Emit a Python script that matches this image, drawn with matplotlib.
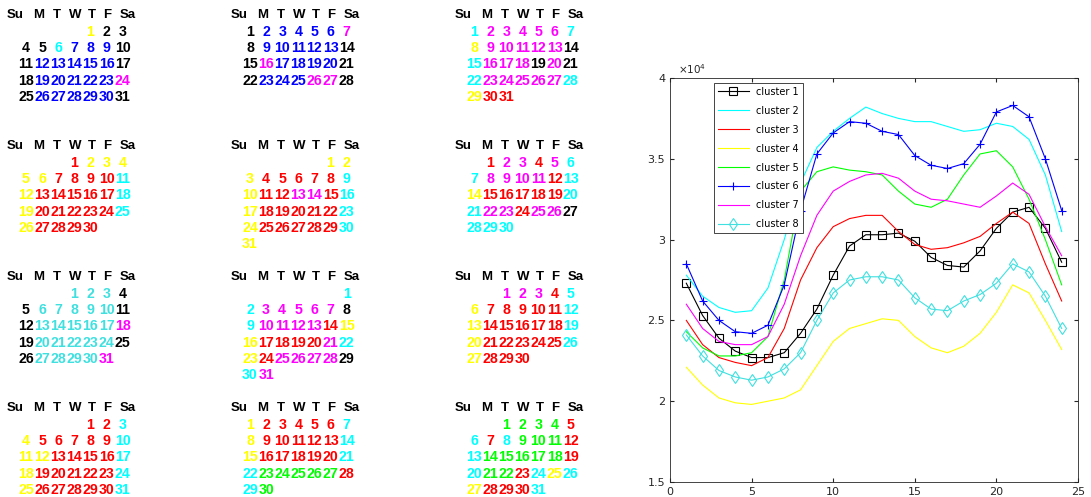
import datetime
import numpy as np
import matplotlib.pyplot as plt
from matplotlib.ticker import FuncFormatter

year = 2015

# cluster id for every day of each month (1-based cluster numbers)
jan = "4111126661" "1666661" "1666667" "1666661"
feb = "1666667" "1666661" "1766661" "1666771"
mar = "2777772" "4777771" "2777171" "2777772" "433"
apr = "3444" "4433332" "4333332" "4333332" "43333"
may = "44" "4333332" "4337732" "4333332" "4333332" "4"
jun = "377372" "2777732" "4333332" "2773771" "222"
jul = "8881" "1888881" "1888887" "1888881" "188887"
aug = "2" "2777771" "2777734" "4333372" "4377771" "27"
sep = "77732" "4333332" "4333332" "4333332" "4333"
oct_ = "332" "4333332" "4433332" "4333332" "4333332"
nov = "4333332" "4333332" "4333332" "2555553" "25"
dec = "55553" "2325553" "2555553" "2553242" "43332"
months = [jan, feb, mar, apr, may, jun, jul, aug, sep, oct_, nov, dec]

hours = np.arange(1, 25)
cluster_1 = [27300, 25300, 23900, 23100, 22700, 22700, 23000, 24200, 25700, 27800, 29600, 30300,
             30300, 30400, 29900, 28900, 28400, 28300, 29300, 30700, 31700, 32000, 30700, 28600]
cluster_2 = [27800, 26500, 25800, 25500, 25600, 27000, 30000, 33500, 35700, 36700, 37500, 38200,
             37800, 37500, 37300, 37300, 37000, 36700, 36800, 37200, 37000, 36200, 34000, 30500]
cluster_3 = [25000, 23500, 22700, 22400, 22200, 22700, 24500, 27500, 29500, 30800, 31300, 31500,
             31500, 30500, 29700, 29400, 29500, 29800, 30200, 31000, 31700, 31000, 28500, 26200]
cluster_4 = [22100, 21000, 20200, 19900, 19800, 20000, 20200, 20700, 22200, 23700, 24500, 24800,
             25100, 25000, 24000, 23300, 23000, 23400, 24200, 25500, 27200, 26700, 25000, 23200]
cluster_5 = [24300, 23300, 22800, 22800, 23000, 24000, 27500, 33000, 34200, 34500, 34300, 34200,
             34000, 33000, 32200, 32000, 32500, 34000, 35300, 35500, 34500, 32500, 30000, 27200]
cluster_6 = [28500, 26200, 25000, 24300, 24200, 24700, 27200, 31800, 35300, 36600, 37300, 37200,
             36700, 36500, 35200, 34600, 34400, 34700, 35900, 37900, 38300, 37600, 35000, 31800]
cluster_7 = [26000, 24500, 23700, 23500, 23500, 24000, 26000, 29000, 31500, 33000, 33600, 34000,
             34100, 33800, 33000, 32500, 32400, 32200, 32000, 32700, 33500, 32800, 30800, 29000]
cluster_8 = [24100, 22800, 21900, 21500, 21300, 21500, 22000, 23000, 25000, 26700, 27500, 27700,
             27700, 27500, 26400, 25700, 25600, 26200, 26600, 27300, 28500, 28000, 26500, 24500]
profiles = [cluster_1, cluster_2, cluster_3, cluster_4, cluster_5, cluster_6, cluster_7, cluster_8]
names = ['cluster %d' % (i + 1) for i in range(8)]

colors = ['k', (0, 1, 1), (1, 0, 0), (1, 1, 0), (0, 1, 0), (0, 0, 1), (1, 0, 1), (0.25, 0.88, 0.88)]
markers = ['s', None, None, None, None, '+', None, 'd']
weekdays = ['Su', 'M', 'T', 'W', 'T', 'F', 'Sa']
head_dx = [-11, 13, 31, 49, 66, 81, 102]

W, H = 1091, 497
fig = plt.figure(figsize=(W / 100, H / 100), dpi=100)

# calendar panels, laid out on a pixel-scaled overlay axes
cal = fig.add_axes([0, 0, 1, 1])
cal.set_xlim(0, W)
cal.set_ylim(H, 0)
cal.axis('off')
font = dict(family=['Liberation Sans', 'DejaVu Sans'], weight='bold',
            ha='center', va='center')

for m, codes in enumerate(months):
    x0 = 26 + 224 * (m % 3)
    y0 = 32 + 131 * (m // 3)
    for d, dx in zip(weekdays, head_dx):
        cal.text(x0 + dx, y0 - 17, d, color='k', fontsize=9.5, **font)
    first = datetime.date(year, m + 1, 1)
    offset = (first.weekday() + 1) % 7
    for i, c in enumerate(codes):
        pos = offset + i
        col, row = pos % 7, pos // 7
        cal.text(x0 + 16.1 * col, y0 + 16.2 * row, str(i + 1),
                 color=colors[int(c) - 1], fontsize=10.2, **font)

# daily load profiles
ax = fig.add_axes([670 / W, 15 / H, 408 / W, 404 / H])
for prof, name, col, mk in zip(profiles, names, colors, markers):
    ax.plot(hours, prof, color=col, lw=0.8, marker=mk, markersize=6,
            markerfacecolor='none', markeredgewidth=0.8, label=name)

ax.set_xlim(0, 25)
ax.set_ylim(15000, 40000)
ax.set_xticks(np.arange(0, 26, 5))
ax.set_yticks(np.arange(15000, 40001, 5000))
ax.yaxis.set_major_formatter(FuncFormatter(lambda v, p: '%g' % (v / 1e4)))
ax.tick_params(direction='in', length=3, labelsize=8, colors='0.15', top=True, right=True)
for s in ax.spines.values():
    s.set_color('0.15')
    s.set_linewidth(0.6)
ax.text(0.02, 1.005, r'$\times10^4$', transform=ax.transAxes, fontsize=7.5,
        color='0.15', va='bottom', ha='left')

leg = ax.legend(loc='upper left', bbox_to_anchor=(0.095, 1.0), fontsize=7,
                fancybox=False, edgecolor='0.15', framealpha=1, handlelength=3.2,
                borderpad=0.4, labelspacing=0.92)
leg.get_frame().set_linewidth(0.6)

fig.savefig('out.png', dpi=100)
